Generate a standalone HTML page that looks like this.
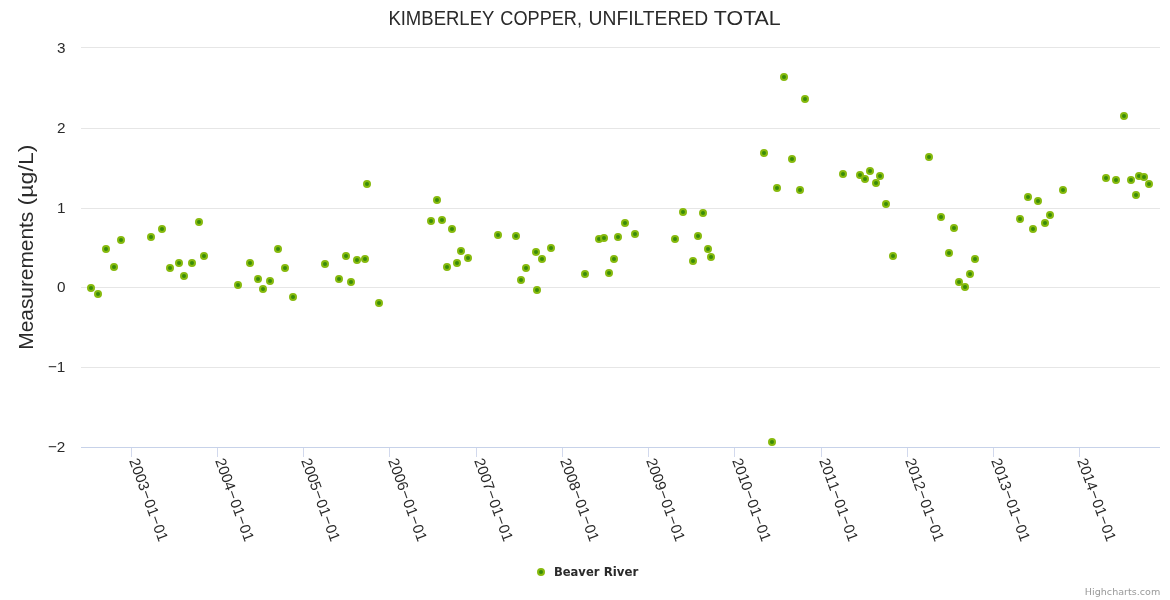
<!DOCTYPE html>
<html lang="en"><head><meta charset="utf-8"><title>Kimberley Copper, Unfiltered Total</title>
<style>html,body{margin:0;padding:0;background:#fff;overflow:hidden}svg{display:block}text{white-space:pre}</style>
</head><body>
<svg width="1170" height="600" viewBox="0 0 1170 600">
<rect x="0" y="0" width="1170" height="600" fill="#ffffff"/>
<g stroke="#e6e6e6" stroke-width="1" shape-rendering="crispEdges">
<line x1="81" x2="1160" y1="47.5" y2="47.5"/>
<line x1="81" x2="1160" y1="128.5" y2="128.5"/>
<line x1="81" x2="1160" y1="208.5" y2="208.5"/>
<line x1="81" x2="1160" y1="287.5" y2="287.5"/>
<line x1="81" x2="1160" y1="367.5" y2="367.5"/>
</g>
<g stroke="#d2d9ed" stroke-width="1" shape-rendering="crispEdges">
<line x1="131.5" x2="131.5" y1="447" y2="457"/>
<line x1="217.5" x2="217.5" y1="447" y2="457"/>
<line x1="303.5" x2="303.5" y1="447" y2="457"/>
<line x1="389.5" x2="389.5" y1="447" y2="457"/>
<line x1="476.5" x2="476.5" y1="447" y2="457"/>
<line x1="562.5" x2="562.5" y1="447" y2="457"/>
<line x1="648.5" x2="648.5" y1="447" y2="457"/>
<line x1="734.5" x2="734.5" y1="447" y2="457"/>
<line x1="821.5" x2="821.5" y1="447" y2="457"/>
<line x1="907.5" x2="907.5" y1="447" y2="457"/>
<line x1="993.5" x2="993.5" y1="447" y2="457"/>
<line x1="1079.5" x2="1079.5" y1="447" y2="457"/>
<line x1="81" x2="1160" y1="447.5" y2="447.5" stroke="#c7d2e9"/>
</g>
<text y="25" font-family='"Liberation Sans", sans-serif' font-size="19.3" fill="#2a2a2a"><tspan x="388.39" textLength="105.67" lengthAdjust="spacingAndGlyphs">KIMBERLEY</tspan> <tspan x="500.37" textLength="81.59" lengthAdjust="spacingAndGlyphs">COPPER,</tspan> <tspan x="588.54" textLength="119.66" lengthAdjust="spacingAndGlyphs">UNFILTERED</tspan> <tspan x="713.86" textLength="66.9" lengthAdjust="spacingAndGlyphs">TOTAL</tspan></text>
<text transform="translate(33,348) rotate(-90)" y="0" font-family='"Liberation Sans", sans-serif' font-size="19.5" fill="#2a2a2a"><tspan x="-1.69" textLength="137.97" lengthAdjust="spacingAndGlyphs">Measurements</tspan> <tspan x="142.58" textLength="60.94" lengthAdjust="spacingAndGlyphs">(µg/L)</tspan></text>
<g font-family='"Liberation Sans", sans-serif' font-size="15.3" fill="#2a2a2a" text-anchor="end">
<text x="65.4" y="53">3</text>
<text x="65.4" y="133">2</text>
<text x="65.4" y="213">1</text>
<text x="65.4" y="292">0</text>
<text x="65.4" y="372">−1</text>
<text x="65.4" y="452">−2</text>
</g>
<g font-family='"Liberation Sans", sans-serif' font-size="15" fill="#2a2a2a">
<text transform="translate(129.0,460.6) rotate(70)" x="0.00 8.25 16.49 24.74 33.75 43.45 51.70 60.71 70.41 78.66" y="0">2003−01−01</text>
<text transform="translate(215.0,460.6) rotate(70)" x="0.00 8.25 16.49 24.74 33.75 43.45 51.70 60.71 70.41 78.66" y="0">2004−01−01</text>
<text transform="translate(301.0,460.6) rotate(70)" x="0.00 8.25 16.49 24.74 33.75 43.45 51.70 60.71 70.41 78.66" y="0">2005−01−01</text>
<text transform="translate(388.0,460.6) rotate(70)" x="0.00 8.25 16.49 24.74 33.75 43.45 51.70 60.71 70.41 78.66" y="0">2006−01−01</text>
<text transform="translate(474.0,460.6) rotate(70)" x="0.00 8.25 16.49 24.74 33.75 43.45 51.70 60.71 70.41 78.66" y="0">2007−01−01</text>
<text transform="translate(560.0,460.6) rotate(70)" x="0.00 8.25 16.49 24.74 33.75 43.45 51.70 60.71 70.41 78.66" y="0">2008−01−01</text>
<text transform="translate(646.0,460.6) rotate(70)" x="0.00 8.25 16.49 24.74 33.75 43.45 51.70 60.71 70.41 78.66" y="0">2009−01−01</text>
<text transform="translate(732.0,460.6) rotate(70)" x="0.00 8.25 16.49 24.74 33.75 43.45 51.70 60.71 70.41 78.66" y="0">2010−01−01</text>
<text transform="translate(819.0,460.6) rotate(70)" x="0.00 8.25 16.49 24.74 33.75 43.45 51.70 60.71 70.41 78.66" y="0">2011−01−01</text>
<text transform="translate(905.0,460.6) rotate(70)" x="0.00 8.25 16.49 24.74 33.75 43.45 51.70 60.71 70.41 78.66" y="0">2012−01−01</text>
<text transform="translate(991.0,460.6) rotate(70)" x="0.00 8.25 16.49 24.74 33.75 43.45 51.70 60.71 70.41 78.66" y="0">2013−01−01</text>
<text transform="translate(1077.0,460.6) rotate(70)" x="0.00 8.25 16.49 24.74 33.75 43.45 51.70 60.71 70.41 78.66" y="0">2014−01−01</text>
</g>
<g fill="#398b09" stroke="#87ba0e" stroke-width="2">
<circle cx="91" cy="288" r="3"/>
<circle cx="98" cy="294" r="3"/>
<circle cx="106" cy="249" r="3"/>
<circle cx="114" cy="267" r="3"/>
<circle cx="121" cy="240" r="3"/>
<circle cx="151" cy="237" r="3"/>
<circle cx="162" cy="229" r="3"/>
<circle cx="170" cy="268" r="3"/>
<circle cx="179" cy="263" r="3"/>
<circle cx="184" cy="276" r="3"/>
<circle cx="192" cy="263" r="3"/>
<circle cx="199" cy="222" r="3"/>
<circle cx="204" cy="256" r="3"/>
<circle cx="238" cy="285" r="3"/>
<circle cx="250" cy="263" r="3"/>
<circle cx="258" cy="279" r="3"/>
<circle cx="263" cy="289" r="3"/>
<circle cx="270" cy="281" r="3"/>
<circle cx="278" cy="249" r="3"/>
<circle cx="285" cy="268" r="3"/>
<circle cx="293" cy="297" r="3"/>
<circle cx="325" cy="264" r="3"/>
<circle cx="339" cy="279" r="3"/>
<circle cx="346" cy="256" r="3"/>
<circle cx="351" cy="282" r="3"/>
<circle cx="357" cy="260" r="3"/>
<circle cx="365" cy="259" r="3"/>
<circle cx="367" cy="184" r="3"/>
<circle cx="379" cy="303" r="3"/>
<circle cx="431" cy="221" r="3"/>
<circle cx="437" cy="200" r="3"/>
<circle cx="442" cy="220" r="3"/>
<circle cx="452" cy="229" r="3"/>
<circle cx="447" cy="267" r="3"/>
<circle cx="457" cy="263" r="3"/>
<circle cx="461" cy="251" r="3"/>
<circle cx="468" cy="258" r="3"/>
<circle cx="498" cy="235" r="3"/>
<circle cx="516" cy="236" r="3"/>
<circle cx="521" cy="280" r="3"/>
<circle cx="526" cy="268" r="3"/>
<circle cx="536" cy="252" r="3"/>
<circle cx="537" cy="290" r="3"/>
<circle cx="542" cy="259" r="3"/>
<circle cx="551" cy="248" r="3"/>
<circle cx="585" cy="274" r="3"/>
<circle cx="599" cy="239" r="3"/>
<circle cx="604" cy="238" r="3"/>
<circle cx="609" cy="273" r="3"/>
<circle cx="614" cy="259" r="3"/>
<circle cx="618" cy="237" r="3"/>
<circle cx="625" cy="223" r="3"/>
<circle cx="635" cy="234" r="3"/>
<circle cx="675" cy="239" r="3"/>
<circle cx="683" cy="212" r="3"/>
<circle cx="693" cy="261" r="3"/>
<circle cx="698" cy="236" r="3"/>
<circle cx="703" cy="213" r="3"/>
<circle cx="708" cy="249" r="3"/>
<circle cx="711" cy="257" r="3"/>
<circle cx="784" cy="77" r="3"/>
<circle cx="805" cy="99" r="3"/>
<circle cx="764" cy="153" r="3"/>
<circle cx="792" cy="159" r="3"/>
<circle cx="929" cy="157" r="3"/>
<circle cx="843" cy="174" r="3"/>
<circle cx="860" cy="175" r="3"/>
<circle cx="870" cy="171" r="3"/>
<circle cx="880" cy="176" r="3"/>
<circle cx="865" cy="179" r="3"/>
<circle cx="777" cy="188" r="3"/>
<circle cx="800" cy="190" r="3"/>
<circle cx="876" cy="183" r="3"/>
<circle cx="886" cy="204" r="3"/>
<circle cx="893" cy="256" r="3"/>
<circle cx="941" cy="217" r="3"/>
<circle cx="954" cy="228" r="3"/>
<circle cx="949" cy="253" r="3"/>
<circle cx="975" cy="259" r="3"/>
<circle cx="970" cy="274" r="3"/>
<circle cx="959" cy="282" r="3"/>
<circle cx="965" cy="287" r="3"/>
<circle cx="1020" cy="219" r="3"/>
<circle cx="1028" cy="197" r="3"/>
<circle cx="1033" cy="229" r="3"/>
<circle cx="1038" cy="201" r="3"/>
<circle cx="1045" cy="223" r="3"/>
<circle cx="1050" cy="215" r="3"/>
<circle cx="1063" cy="190" r="3"/>
<circle cx="1136" cy="195" r="3"/>
<circle cx="1124" cy="116" r="3"/>
<circle cx="1106" cy="178" r="3"/>
<circle cx="1116" cy="180" r="3"/>
<circle cx="1131" cy="180" r="3"/>
<circle cx="1139" cy="176" r="3"/>
<circle cx="1144" cy="177" r="3"/>
<circle cx="1149" cy="184" r="3"/>
<circle cx="772" cy="442" r="3"/>
</g>
<circle cx="541" cy="572" r="3" fill="#398b09" stroke="#87ba0e" stroke-width="2"/>
<text y="576" font-family='"DejaVu Sans", sans-serif' font-size="12" font-weight="bold" fill="#2a2a2a"><tspan x="553.97" textLength="45.42" lengthAdjust="spacingAndGlyphs">Beaver</tspan> <tspan x="603.7" textLength="34.55" lengthAdjust="spacingAndGlyphs">River</tspan></text>
<text x="1084.83" y="595" font-family='"DejaVu Sans", sans-serif' font-size="9.5" fill="#999999" textLength="75.47" lengthAdjust="spacingAndGlyphs">Highcharts.com</text>
</svg>
</body></html>
